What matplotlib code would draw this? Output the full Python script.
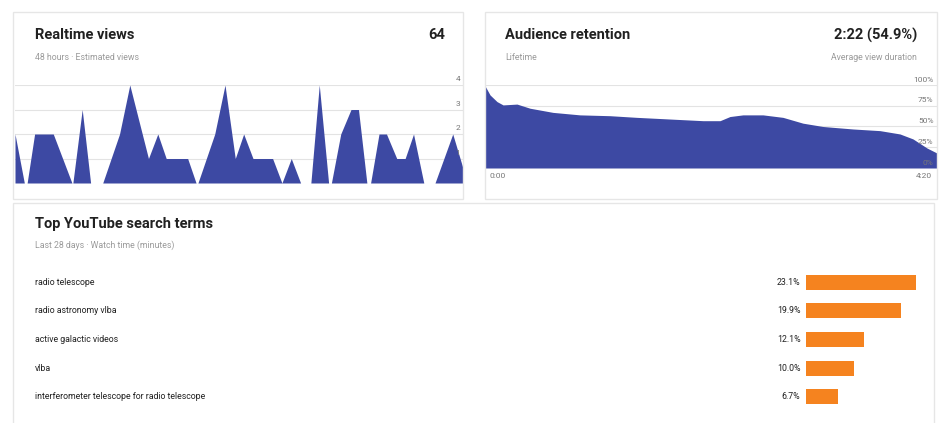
import matplotlib
matplotlib.use('Agg')
import matplotlib.pyplot as plt
import matplotlib.transforms as mtransforms
from matplotlib.patches import Rectangle

plt.rcParams['font.family'] = ['Roboto', 'DejaVu Sans']

# realtime views, last 48 hours (hour, views)
rt_hours = [0, 1.0, 1.3, 2.1, 4.1, 6.1, 6.2, 7.2, 8.1, 9.4, 11.2, 12.3, 14.3, 15.3,
            16.2, 18.5, 19.4, 19.6, 21.4, 22.5, 23.6, 24.5, 25.5, 27.6, 28.6, 29.6,
            30.6, 31.7, 32.6, 33.6, 33.9, 34.9, 36.0, 36.8, 37.7, 38.1, 39.0, 39.8,
            40.9, 41.8, 42.7, 43.8, 45.0, 46.9, 48]
rt_views = [2, 0, 0, 2, 2, 0, 0, 3, 0, 0, 2, 4, 1, 2,
            1, 1, 0, 0, 2, 4, 1, 2, 1, 1, 0, 1,
            0, 0, 4, 0, 0, 2, 3, 3, 0, 0, 2, 2,
            1, 1, 2, 0, 0, 2, 0.6]
rt_ticks = [1, 2, 3, 4]
rt_total = '64'

# audience retention (seconds into the video, % of viewers)
ret_sec = [0, 2.9, 6.9, 10.4, 18.4, 25.9, 39.1, 54.6, 71.9, 87.4, 106.4, 125.4,
           135.2, 140.9, 148.4, 159.9, 171.4, 182.9, 194.4, 211.7, 227.2, 238.7,
           246.2, 254.3, 260]
ret_pct = [99, 88, 80, 76, 77, 72, 67, 64, 63, 61, 59, 57,
           57, 62, 64, 64, 61, 54, 50, 47, 45, 41,
           35, 24, 18]
ret_ticks = [0, 25, 50, 75, 100]
ret_avg = '2:22 (54.9%)'

# top search terms
terms = ['radio telescope', 'radio astronomy vlba', 'active galactic videos', 'vlba',
         'interferometer telescope for radio telescope']
shares = [23.1, 19.9, 12.1, 10.0, 6.7]

BLUE = '#3d49a3'
ORANGE = '#f5831f'
GRID = '#e3e3e3'
GREY = '#9a9a9a'
W, H = 942, 423


def box(l, t, r, b):
    return [l / W, 1 - b / H, (r - l) / W, (b - t) / H]


def ftext(x, y, s, **kw):
    fig.text(x / W, 1 - y / H, s, **kw)


fig = plt.figure(figsize=(9.42, 4.23), dpi=100)
fig.patch.set_facecolor('white')

# card outlines
for l, t, r, b in [(13, 12, 463, 199), (485, 12, 937, 199), (13, 203, 934, 430)]:
    fig.add_artist(Rectangle((l / W, 1 - b / H), (r - l) / W, (b - t) / H,
                             transform=fig.transFigure, fill=False,
                             edgecolor='#e6e6e6', linewidth=1))

# --- realtime views
ax1 = fig.add_axes(box(15, 85, 463, 183))
ax1.fill_between(rt_hours, rt_views, color=BLUE, lw=0)
ax1.set_xlim(0, 48)
ax1.set_ylim(0, 4)
for v in rt_ticks:
    ax1.axhline(v, color=GRID, lw=0.8, zorder=0)
    ax1.text(47.7, v + 0.12, str(v), ha='right', va='bottom', fontsize=6, color='#777777')
ax1.axis('off')
ftext(35, 35, 'Realtime views', fontsize=10.5, fontweight='bold', va='center', color='#212121')
ftext(445, 35, rt_total, fontsize=10.5, fontweight='bold', va='center', ha='right', color='#212121')
ftext(35, 57, '48 hours · Estimated views', fontsize=6.3, va='center', color=GREY)

# --- audience retention
ax2 = fig.add_axes(box(485, 85, 937, 168))
ax2.fill_between(ret_sec, ret_pct, color=BLUE, lw=0)
ax2.set_xlim(0, 260)
ax2.set_ylim(0, 100)
for v in ret_ticks:
    ax2.axhline(v, color=GRID, lw=0.8, zorder=0)
    ax2.text(258, v + 3, f'{v}%', ha='right', va='bottom', fontsize=6, color='#777777', zorder=3)
ax2.axis('off')
ftext(490, 176, '0:00', fontsize=6, va='center', color='#777777')
ftext(932, 176, '4:20', fontsize=6, va='center', ha='right', color='#777777')
ftext(505, 35, 'Audience retention', fontsize=10.5, fontweight='bold', va='center', color='#212121')
ftext(917, 35, ret_avg, fontsize=10.5, fontweight='bold', va='center', ha='right', color='#212121')
ftext(505, 57, 'Lifetime', fontsize=6.3, va='center', color=GREY)
ftext(917, 57, 'Average view duration', fontsize=6.3, va='center', ha='right', color=GREY)

# --- top search terms
ax3 = fig.add_axes(box(806, 268, 925, 411))
ypos = list(range(len(terms)))
ax3.barh(ypos, shares, height=0.52, color=ORANGE)
ax3.set_xlim(0, 25)
ax3.set_ylim(len(terms) - 0.5, -0.5)
ax3.axis('off')
blend = mtransforms.blended_transform_factory(fig.transFigure, ax3.transData)
for y, term, s in zip(ypos, terms, shares):
    ax3.text(35 / W, y, term, transform=blend, fontsize=6.3, va='center', color='#212121')
    ax3.annotate(f'{s:.1f}%', (0, y), xytext=(-4, 0), textcoords='offset points',
                 ha='right', va='center', fontsize=6.3, color='#212121')
ftext(35, 224, 'Top YouTube search terms', fontsize=10.5, fontweight='bold', va='center', color='#212121')
ftext(35, 245, 'Last 28 days · Watch time (minutes)', fontsize=6.3, va='center', color=GREY)

fig.savefig('out.png', dpi=100)
